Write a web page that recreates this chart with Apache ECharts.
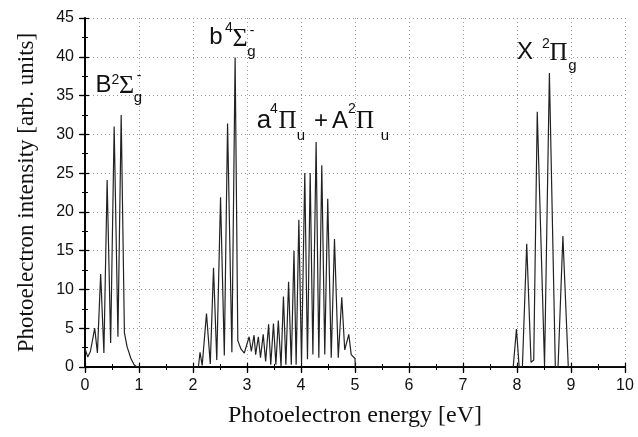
<!DOCTYPE html>
<html lang="en">
<head>
    <meta charset="UTF-8">
    <title>Photoelectron spectrum</title>
    <script src="https://cdn.jsdelivr.net/npm/echarts@6/dist/echarts.min.js"></script>
</head>
<body style="margin:0">
<div id="main" style="width:638px;height:437px"></div>
<script>
    // spectrum: energy [eV] / intensity [arb. units]
    var energy = [
        0.00, 0.05, 0.10, 0.18, 0.23, 0.29, 0.35, 0.41, 0.475, 0.54, 0.61, 0.67, 0.73, 0.78, 0.85, 0.91, 0.96,
        2.10, 2.13, 2.17, 2.25, 2.32, 2.38, 2.44, 2.51, 2.58, 2.64, 2.72, 2.78, 2.83, 2.89, 2.95,
        3.04, 3.08, 3.13, 3.16, 3.21, 3.25, 3.30, 3.345, 3.40, 3.44, 3.49, 3.535, 3.58, 3.63, 3.675, 3.72,
        3.77, 3.82, 3.87, 3.91, 3.96, 4.01, 4.07, 4.12, 4.17, 4.22, 4.28, 4.33, 4.385, 4.44, 4.495, 4.56,
        4.62, 4.69, 4.755, 4.81, 4.885, 4.93, 5.00, 5.005,
        7.93, 7.99, 8.04, 8.10, 8.18, 8.26, 8.31, 8.375, 8.51, 8.60, 8.71, 8.76, 8.85, 8.95, 10.0
    ];
    var intensity = [
        2.4, 1.3, 2.0, 5.0, 1.8, 12.0, 1.8, 24.1, 3.1, 31.0, 3.9, 32.5, 4.4, 2.6, 1.1, 0.3, 0,
        0, 1.9, 0.2, 6.9, 0.4, 12.8, 0.9, 21.9, 1.5, 31.4, 1.9, 39.9, 3.4, 2.3, 1.8,
        3.9, 2.0, 4.1, 1.6, 3.9, 1.2, 4.2, 0.7, 5.5, 0.3, 5.6, 0.3, 6.0, 0.1, 9.1, 0.3,
        11.0, 0.3, 15.0, 0.3, 19.0, 0.5, 25.0, 1.0, 25.0, 1.6, 29.0, 1.2, 26.0, 1.6, 21.7, 1.2,
        16.5, 1.2, 9.0, 2.2, 4.2, 1.6, 1.1, 0,
        0, 4.9, 0, 0, 15.9, 0.6, 0.9, 32.9, 0.2, 37.9, 0, 0, 16.9, 0, 0
    ];
    var xRange = [0, 10];
    var yRange = [0, 45];

    var sans = '"Liberation Sans", Arial, sans-serif';
    var serif = '"Liberation Serif", "Times New Roman", serif';

    // band labels: [text, x, y, size, family]
    var bandLabels = [
        ['B', 103.5, 85, 24, sans], ['2', 115.5, 80, 14, sans], ['\u03A3', 126.5, 86.5, 26, serif],
        ['g', 138, 97.5, 15, sans], ['-', 139, 76, 14, sans],
        ['b', 216, 37.5, 24, sans], ['4', 229, 28.5, 14, sans], ['\u03A3', 240, 39, 26, serif],
        ['g', 251.5, 51.5, 15, sans], ['-', 252, 31, 14, sans],
        ['a', 264, 121, 26, sans], ['4', 274, 109, 14, sans], ['\u03A0', 287.5, 121.5, 25, serif],
        ['u', 301, 135.5, 15, sans], ['+', 321, 121, 24, sans],
        ['A', 340, 121, 24, sans], ['2', 352, 109, 14, sans], ['\u03A0', 365, 121.5, 25, serif],
        ['u', 385, 135.5, 15, sans],
        ['X', 525, 52.5, 24, sans], ['2', 546, 44, 14, sans], ['\u03A0', 558.5, 53.5, 25, serif],
        ['g', 572.5, 66, 15, sans]
    ];

    var chartData = energy.map(function (e, i) {
        return [e, intensity[i]];
    });

    function xAx(extra) {
        var ax = {
            type: 'value', min: xRange[0], max: xRange[1], interval: 1,
            axisLine: {show: true, lineStyle: {color: '#000', width: 1.5}},
            axisTick: {show: true, length: 5, lineStyle: {color: '#000', width: 1.2}},
            minorTick: {show: true, splitNumber: 2, length: 3, lineStyle: {color: '#000', width: 1}},
            axisLabel: {show: false},
            splitLine: {show: false}
        };
        return Object.assign(ax, extra);
    }
    function yAx(extra) {
        var ax = {
            type: 'value', min: yRange[0], max: yRange[1], interval: 5,
            axisLine: {show: true, lineStyle: {color: '#000', width: 1.5}},
            axisTick: {show: true, length: 5, lineStyle: {color: '#000', width: 1.2}},
            minorTick: {show: true, splitNumber: 2, length: 3, lineStyle: {color: '#000', width: 1}},
            axisLabel: {show: false},
            splitLine: {show: false}
        };
        return Object.assign(ax, extra);
    }

    var myChart = echarts.init(document.getElementById('main'));
    var option = {
        animation: false,
        backgroundColor: '#fff',
        grid: {left: 85, right: 13, top: 18, bottom: 70},
        xAxis: [
            xAx({
                position: 'bottom',
                axisLabel: {show: true, margin: 11, fontSize: 16, color: '#111', fontFamily: sans},
                splitLine: {show: true, lineStyle: {color: '#999', type: [1, 3], width: 1}},
                name: 'Photoelectron energy [eV]',
                nameLocation: 'middle',
                nameGap: 37,
                nameTextStyle: {fontSize: 24, color: '#111', fontFamily: serif}
            }),
            xAx({position: 'bottom', axisTick: {show: true, inside: true, length: 4, lineStyle: {color: '#000', width: 1.2}}}),
            xAx({position: 'top', axisTick: {show: true, inside: true, length: 6, lineStyle: {color: '#000', width: 1.2}}})
        ],
        yAxis: [
            yAx({
                position: 'left',
                axisLabel: {show: true, margin: 11, fontSize: 16, color: '#111', fontFamily: sans},
                splitLine: {show: true, lineStyle: {color: '#999', type: [1, 3], width: 1}},
                name: 'Photoelectron intensity [arb. units]',
                nameLocation: 'middle',
                nameGap: 47,
                nameTextStyle: {fontSize: 23, color: '#111', fontFamily: serif}
            }),
            yAx({position: 'left', axisTick: {show: true, inside: true, length: 4, lineStyle: {color: '#000', width: 1.2}}}),
            yAx({position: 'right', axisTick: {show: true, inside: true, length: 6, lineStyle: {color: '#000', width: 1.2}}})
        ],
        series: [{
            type: 'line',
            xAxisIndex: 0,
            yAxisIndex: 0,
            data: chartData,
            showSymbol: false,
            symbol: 'none',
            lineStyle: {color: '#222', width: 1.2}
        }],
        graphic: bandLabels.map(function (l) {
            return {
                type: 'text',
                x: l[1],
                y: l[2],
                z: 10,
                style: {
                    text: l[0],
                    font: l[3] + 'px ' + l[4],
                    fill: '#111',
                    align: 'center',
                    verticalAlign: 'middle'
                }
            };
        })
    };
    myChart.setOption(option);
</script>
</body>
</html>
